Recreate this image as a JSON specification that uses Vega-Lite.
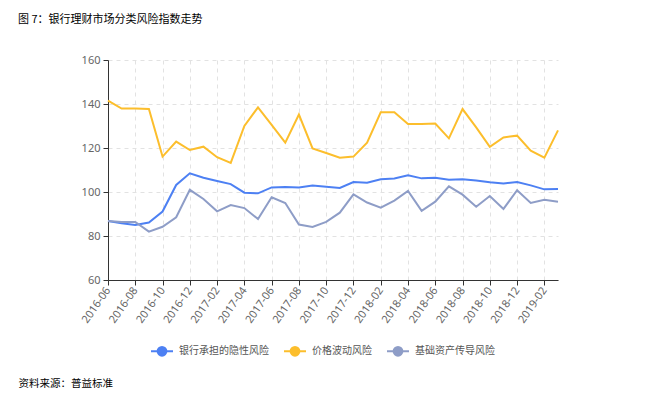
{
  "$schema": "https://vega.github.io/schema/vega-lite/v6.json",
  "background": "white",
  "autosize": {"type": "none"},
  "padding": {"left": 108, "top": 60, "right": 113, "bottom": 117},
  "width": 450,
  "height": 220,
  "title": {
    "text": "图 7：银行理财市场分类风险指数走势",
    "anchor": "start",
    "frame": "group",
    "dx": -90,
    "offset": 29,
    "font": "Noto Sans CJK SC",
    "fontSize": 11,
    "fontWeight": "normal",
    "color": "#000000"
  },
  "data": {
    "values": [
      {"month": "2016-06", "银行承担的隐性风险": 86.8, "价格波动风险": 141.5, "基础资产传导风险": 86.8},
      {"month": "2016-07", "银行承担的隐性风险": 85.8, "价格波动风险": 137.9, "基础资产传导风险": 86.4},
      {"month": "2016-08", "银行承担的隐性风险": 85.0, "价格波动风险": 137.9, "基础资产传导风险": 86.4},
      {"month": "2016-09", "银行承担的隐性风险": 86.1, "价格波动风险": 137.7, "基础资产传导风险": 82.0},
      {"month": "2016-10", "银行承担的隐性风险": 91.1, "价格波动风险": 116.1, "基础资产传导风险": 84.2},
      {"month": "2016-11", "银行承担的隐性风险": 103.2, "价格波动风险": 122.9, "基础资产传导风险": 88.5},
      {"month": "2016-12", "银行承担的隐性风险": 108.5, "价格波动风险": 119.1, "基础资产传导风险": 101.0},
      {"month": "2017-01", "银行承担的隐性风险": 106.5, "价格波动风险": 120.6, "基础资产传导风险": 96.8},
      {"month": "2017-02", "银行承担的隐性风险": 105.0, "价格波动风险": 115.8, "基础资产传导风险": 91.2},
      {"month": "2017-03", "银行承担的隐性风险": 103.6, "价格波动风险": 113.2, "基础资产传导风险": 94.1},
      {"month": "2017-04", "银行承担的隐性风险": 99.7, "价格波动风险": 130.0, "基础资产传导风险": 92.7},
      {"month": "2017-05", "银行承担的隐性风险": 99.4, "价格波动风险": 138.5, "基础资产传导风险": 87.7},
      {"month": "2017-06", "银行承担的隐性风险": 102.1, "价格波动风险": 130.5, "基础资产传导风险": 97.6},
      {"month": "2017-07", "银行承担的隐性风险": 102.3, "价格波动风险": 122.4, "基础资产传导风险": 95.0},
      {"month": "2017-08", "银行承担的隐性风险": 102.1, "价格波动风险": 135.2, "基础资产传导风险": 85.2},
      {"month": "2017-09", "银行承担的隐性风险": 102.9, "价格波动风险": 119.8, "基础资产传导风险": 84.1},
      {"month": "2017-10", "银行承担的隐性风险": 102.4, "价格波动风险": 117.7, "基础资产传导风险": 86.4},
      {"month": "2017-11", "银行承担的隐性风险": 101.8, "价格波动风险": 115.6, "基础资产传导风险": 90.6},
      {"month": "2017-12", "银行承担的隐性风险": 104.5, "价格波动风险": 116.1, "基础资产传导风险": 98.9},
      {"month": "2018-01", "银行承担的隐性风险": 104.2, "价格波动风险": 122.4, "基础资产传导风险": 95.2},
      {"month": "2018-02", "银行承担的隐性风险": 105.8, "价格波动风险": 136.2, "基础资产传导风险": 92.9},
      {"month": "2018-03", "银行承担的隐性风险": 106.1, "价格波动风险": 136.2, "基础资产传导风险": 96.1},
      {"month": "2018-04", "银行承担的隐性风险": 107.6, "价格波动风险": 130.9, "基础资产传导风险": 100.5},
      {"month": "2018-05", "银行承担的隐性风险": 106.2, "价格波动风险": 130.9, "基础资产传导风险": 91.4},
      {"month": "2018-06", "银行承担的隐性风险": 106.5, "价格波动风险": 131.1, "基础资产传导风险": 95.6},
      {"month": "2018-07", "银行承担的隐性风险": 105.6, "价格波动风险": 124.4, "基础资产传导风险": 102.6},
      {"month": "2018-08", "银行承担的隐性风险": 105.8, "价格波动风险": 137.7, "基础资产传导风险": 98.8},
      {"month": "2018-09", "银行承担的隐性风险": 105.2, "价格波动风险": 129.4, "基础资产传导风险": 93.3},
      {"month": "2018-10", "银行承担的隐性风险": 104.4, "价格波动风险": 120.5, "基础资产传导风险": 98.2},
      {"month": "2018-11", "银行承担的隐性风险": 103.9, "价格波动风险": 124.8, "基础资产传导风险": 92.3},
      {"month": "2018-12", "银行承担的隐性风险": 104.5, "价格波动风险": 125.6, "基础资产传导风险": 100.8},
      {"month": "2019-01", "银行承担的隐性风险": 103.0, "价格波动风险": 118.8, "基础资产传导风险": 95.0},
      {"month": "2019-02", "银行承担的隐性风险": 101.2, "价格波动风险": 115.6, "基础资产传导风险": 96.5},
      {"month": "2019-03", "银行承担的隐性风险": 101.4, "价格波动风险": 128.0, "基础资产传导风险": 95.6}
    ]
  },
  "transform": [
    {"fold": ["银行承担的隐性风险", "价格波动风险", "基础资产传导风险"], "as": ["series", "value"]}
  ],
  "mark": {"type": "line", "strokeWidth": 2, "interpolate": "linear"},
  "encoding": {
    "x": {
      "field": "month",
      "type": "ordinal",
      "sort": null,
      "scale": {"type": "point", "padding": 0},
      "axis": {
        "title": "资料来源：普益标准",
        "titleFont": "Noto Sans CJK SC",
        "titleFontSize": 10.5,
        "titleFontWeight": "normal",
        "titleColor": "#000000",
        "titleAnchor": "start",
        "titleAlign": "left",
        "titleBaseline": "middle",
        "titleX": -90,
        "titleY": 103,
        "values": ["2016-06", "2016-08", "2016-10", "2016-12", "2017-02", "2017-04", "2017-06", "2017-08", "2017-10", "2017-12", "2018-02", "2018-04", "2018-06", "2018-08", "2018-10", "2018-12", "2019-02"],
        "labelAngle": -55,
        "labelAlign": "right",
        "labelBaseline": "middle",
        "labelPadding": 3,
        "grid": true
      }
    },
    "y": {
      "field": "value",
      "type": "quantitative",
      "scale": {"domain": [60, 160], "nice": false, "zero": false},
      "axis": {"title": null, "values": [60, 80, 100, 120, 140, 160], "grid": true, "labelPadding": 3}
    },
    "color": {
      "field": "series",
      "type": "nominal",
      "sort": ["银行承担的隐性风险", "价格波动风险", "基础资产传导风险"],
      "scale": {
        "domain": ["银行承担的隐性风险", "价格波动风险", "基础资产传导风险"],
        "range": ["#4d80f3", "#fcbe2c", "#8e9dc7"]
      },
      "legend": {
        "title": null,
        "orient": "none",
        "legendX": 42,
        "legendY": 279,
        "direction": "horizontal",
        "symbolType": "M-1,0H1M-0.4,0A0.4,0.4,0,1,1,0.4,0A0.4,0.4,0,1,1,-0.4,0Z",
        "symbolSize": 484,
        "symbolStrokeWidth": 2,
        "labelFont": "Noto Sans CJK SC",
        "labelFontSize": 10,
        "labelColor": "#555555",
        "columnPadding": 11,
        "labelOffset": 5,
        "encode": {
          "symbols": {"update": {"fill": {"scale": "color", "field": "value"}}}
        }
      }
    }
  },
  "config": {
    "view": {"stroke": null},
    "axis": {
      "labelFont": "Noto Sans",
      "labelFontSize": 11,
      "labelColor": "#666666",
      "domainColor": "#333333",
      "tickColor": "#333333",
      "tickSize": 5,
      "gridColor": "#e2e2e2",
      "gridDash": [4, 4],
      "gridWidth": 1
    }
  }
}
